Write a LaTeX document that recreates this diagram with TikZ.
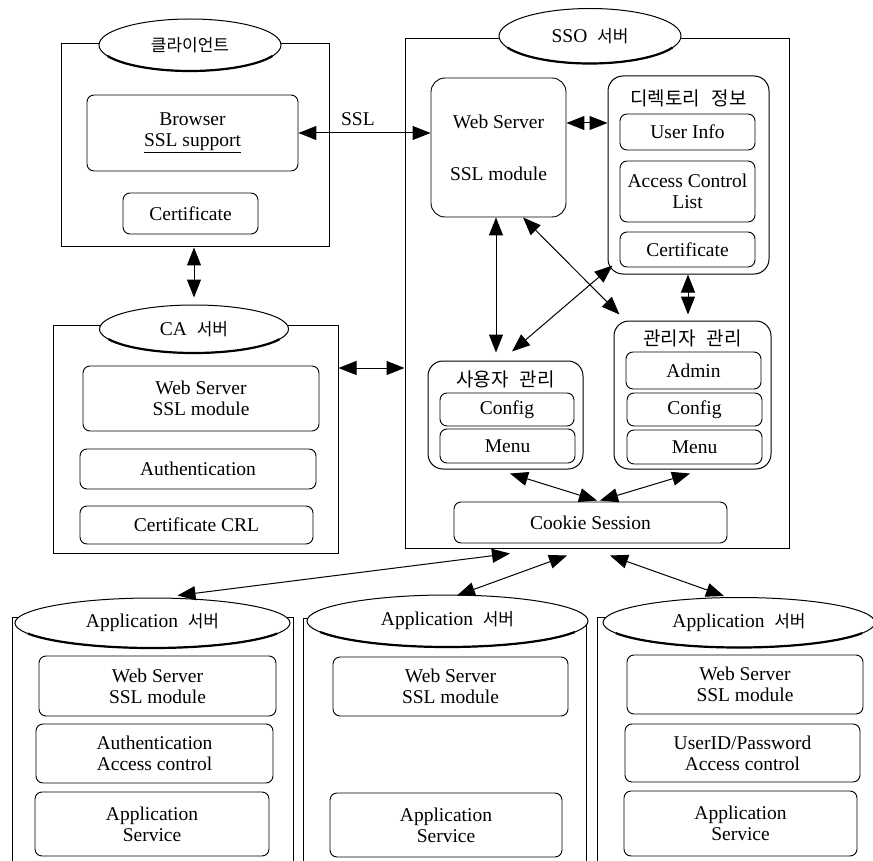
\documentclass[tikz,border=0pt]{standalone}
\usepackage{fontspec}
\setmainfont{Liberation Serif}
\newfontfamily\kr{Noto Sans CJK KR}
\usetikzlibrary{arrows.meta,shapes.geometric}
\newcommand\lat{\fontsize{19.5}{21}\selectfont}
\newcommand\krs{\kr\fontsize{17}{18}\selectfont}
\newcommand\krt{\kr\fontsize{19}{20}\selectfont}
\newcommand\ellshadow[4]{\draw[line width=2.2pt] (#1,#2) ++(25:#3 and #4) arc[start angle=25,end angle=155,x radius=#3,y radius=#4];}
\tikzset{
  box/.style={draw, line width=0.9pt, rounded corners=7pt, inner sep=0pt, align=center, font=\lat},
  cont/.style={draw, line width=1pt, inner sep=0pt},
  grp/.style={draw, line width=1pt, rounded corners=15pt, inner sep=0pt},
  lab/.style={draw, ellipse, fill=white, line width=1pt, inner sep=0pt, font=\lat},
  ttl/.style={inner sep=0pt, font=\krt},
  dbl/.style={{Triangle[length=18pt,width=14pt]}-{Triangle[length=18pt,width=14pt]}, line width=1pt},
}
\begin{document}
\begin{tikzpicture}[x=1pt,y=-1pt]
\useasboundingbox (0,0) rectangle (873,861);
\clip (0,0) rectangle (873,861);
% containers
\node[cont, minimum width=268pt, minimum height=203pt] (client) at (195,145.5) {};
\node[cont, minimum width=285pt, minimum height=228pt] (ca) at (195.5,439) {};
\node[cont, minimum width=384pt, minimum height=509pt] (sso) at (597,293.5) {};
\node[cont, minimum width=281pt, minimum height=260pt] (app1) at (152.5,747) {};
\node[cont, minimum width=283pt, minimum height=260pt] (app2) at (444.5,748) {};
\node[cont, minimum width=281pt, minimum height=260pt] (app3) at (737.5,747) {};
% ellipse labels
\node[lab, minimum width=182pt, minimum height=52pt] (cliente) at (190,45) {\krs 클라이언트};
\ellshadow{190}{45}{91}{26}
\node[lab, minimum width=189pt, minimum height=48pt] (cae) at (194,329) {CA\hspace{0.5em}{\krs 서버}};
\ellshadow{194}{329}{94.5}{24}
\node[lab, minimum width=182pt, minimum height=55pt] (ssoe) at (590,36) {SSO\hspace{0.5em}{\krs 서버}};
\ellshadow{590}{36}{91}{27.5}
\node[lab, minimum width=275pt, minimum height=50pt] (app1e) at (152.5,623) {Application\hspace{0.5em}{\krs 서버}};
\ellshadow{152.5}{623}{137.5}{25}
\node[lab, minimum width=281pt, minimum height=52pt] (app2e) at (447.5,621) {Application\hspace{0.5em}{\krs 서버}};
\ellshadow{447.5}{621}{140.5}{26}
\node[lab, minimum width=272pt, minimum height=50pt] (app3e) at (739,622.5) {Application\hspace{0.5em}{\krs 서버}};
\ellshadow{739}{622.5}{136}{25}
% client
\node[box, minimum width=211pt, minimum height=76pt] (browser) at (192.5,133) {Browser\\\underline{SSL support}};
\node[box, minimum width=135pt, minimum height=41pt] (ccert) at (190.5,213.5) {Certificate};
% CA
\node[box, minimum width=236pt, minimum height=65pt] (caweb) at (201,398.5) {Web Server\\SSL module};
\node[box, minimum width=236pt, minimum height=40pt] (caauth) at (198,469) {Authentication};
\node[box, minimum width=233pt, minimum height=38pt] (cacrl) at (196.5,525) {Certificate CRL};
% SSO
\node[box, rounded corners=14pt, minimum width=135pt, minimum height=139pt] (ssoweb) at (498.5,147.5) {Web Server\\[31pt]SSL module};
\node[grp, minimum width=161pt, minimum height=198pt] (dir) at (688.5,175) {};
\node[ttl] (dirt) at (688.5,98) {디렉토리\hspace{0.6em}정보};
\node[box, minimum width=135pt, minimum height=36pt] (uinfo) at (687.5,132) {User Info};
\node[box, minimum width=135pt, minimum height=61pt] (acl) at (687.5,191.5) {Access Control\\List};
\node[box, minimum width=135pt, minimum height=35pt] (dcert) at (687.5,249.5) {Certificate};
\node[grp, minimum width=157pt, minimum height=148pt] (amgmt) at (692.5,395) {};
\node[ttl] (amgmtt) at (692.5,338) {관리자\hspace{0.6em}관리};
\node[box, minimum width=135pt, minimum height=37pt] (admin) at (693.5,370.5) {Admin};
\node[box, minimum width=135pt, minimum height=33pt] (aconf) at (694.5,409.5) {Config};
\node[box, minimum width=135pt, minimum height=34pt] (amenu) at (694.5,447) {Menu};
\node[grp, minimum width=155pt, minimum height=108pt] (umgmt) at (505.5,415) {};
\node[ttl] (umgmtt) at (505.5,379) {사용자\hspace{0.6em}관리};
\node[box, minimum width=134pt, minimum height=33pt] (uconf) at (507,409.5) {Config};
\node[box, minimum width=135pt, minimum height=34pt] (umenu) at (507.5,446) {Menu};
\node[box, minimum width=273pt, minimum height=41pt] (cookie) at (590.5,522.5) {Cookie Session};
% applications
\node[box, minimum width=237pt, minimum height=60pt] (a1web) at (157.5,686) {Web Server\\SSL module};
\node[box, minimum width=237pt, minimum height=59pt] (a1auth) at (154.5,753.5) {Authentication\\Access control};
\node[box, minimum width=234pt, minimum height=64pt] (a1svc) at (152,824) {Application\\Service};
\node[box, minimum width=235pt, minimum height=59pt] (a2web) at (450.5,686.5) {Web Server\\SSL module};
\node[box, minimum width=232pt, minimum height=64pt] (a2svc) at (446,825) {Application\\Service};
\node[box, minimum width=236pt, minimum height=59pt] (a3web) at (745,684.5) {Web Server\\SSL module};
\node[box, minimum width=235pt, minimum height=58pt] (a3uid) at (742.5,753) {UserID/Password\\Access control};
\node[box, minimum width=233pt, minimum height=65pt] (a3svc) at (740.5,823.5) {Application\\Service};
% connectors
\draw[dbl] (browser.east) -- (browser.east -| ssoweb.west) node[pos=0.45, above=3pt, font=\lat] (ssl) {SSL};
\draw[dbl] ([yshift=24.5pt]ssoweb.east) -- ([yshift=24.5pt]ssoweb.east -| dir.west);
\draw[dbl] (cae.north |- client.south) -- ([yshift=7pt]cae.north);
\draw[dbl] ([yshift=71pt]ca.east) -- ([yshift=71pt]ca.east -| sso.west);
\draw[dbl] ([xshift=-2.5pt]ssoweb.south) -- ([xshift=-9.5pt,yshift=8pt]umgmt.north);
\draw[dbl] ([xshift=24.5pt]ssoweb.south) -- ([xshift=6pt,yshift=6pt]amgmt.north west);
\draw[dbl] ([xshift=5pt,yshift=9pt]dir.south west) -- ([xshift=6.5pt,yshift=9pt]umgmt.north);
\draw[dbl] ([xshift=-0.5pt]dir.south) -- ([xshift=-4.5pt,yshift=6pt]amgmt.north);
\draw[dbl] ([xshift=4.5pt,yshift=-4pt]umgmt.south) -- ([xshift=6.5pt,yshift=1pt]cookie.north);
\draw[dbl] ([xshift=-2.5pt,yshift=-4pt]amgmt.south) -- ([xshift=9.5pt,yshift=1pt]cookie.north);
\draw[dbl] ([xshift=-87pt,yshift=-5pt]sso.south) -- ([xshift=25pt,yshift=2pt]app1e.north);
\draw[dbl] ([xshift=-30pt,yshift=-7pt]sso.south) -- ([xshift=9.5pt,yshift=-1pt]app2e.north);
\draw[dbl] ([xshift=13pt,yshift=-7pt]sso.south) -- ([xshift=-15pt,yshift=1pt]app3e.north);
\end{tikzpicture}
\end{document}
